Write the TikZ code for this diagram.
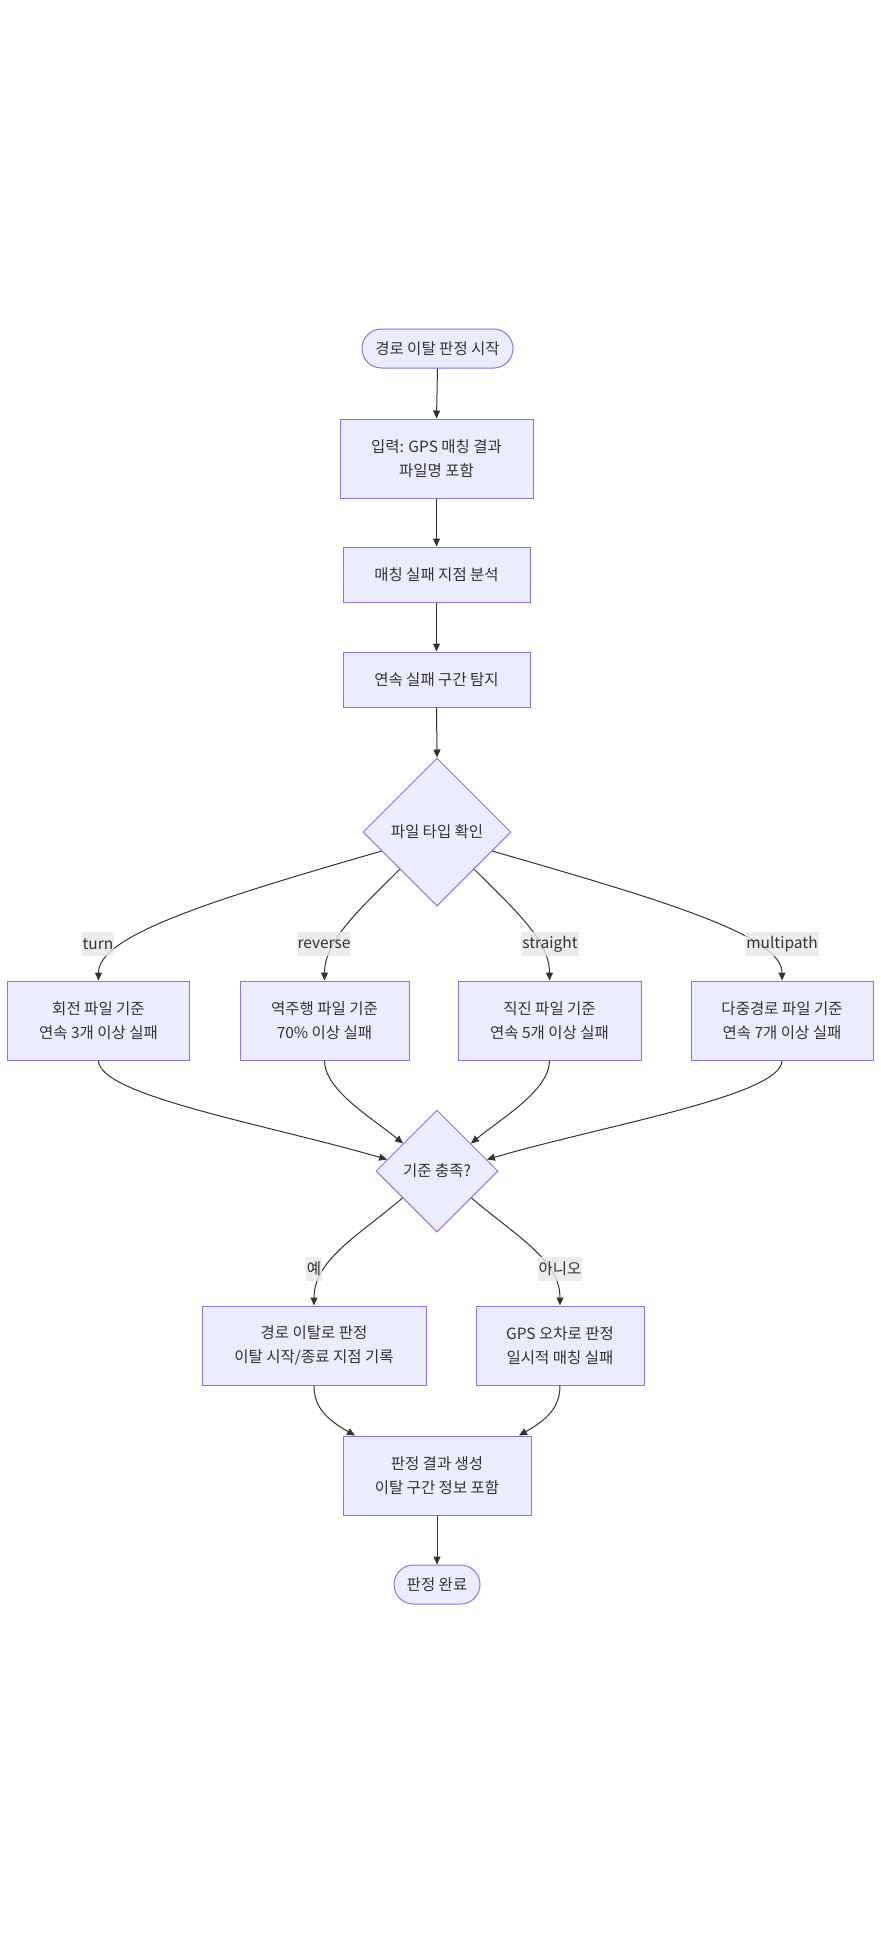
\documentclass[tikz,border=0pt]{standalone}
\usepackage{fontspec}
\setmainfont{Noto Sans CJK KR}
\usetikzlibrary{shapes.geometric,arrows.meta}
\definecolor{nodefill}{HTML}{ECECFF}
\definecolor{nodeline}{HTML}{9370DB}
\definecolor{edgeline}{HTML}{333333}
\definecolor{txtcol}{HTML}{333333}
\definecolor{lblbg}{HTML}{E8E8E8}
\newcommand\diagfont{\fontsize{15.5bp}{24bp}\selectfont}
\begin{document}
\begin{tikzpicture}[x=1bp,y=-1bp,
  box/.style={rectangle, draw=nodeline, fill=nodefill, line width=1bp, text=txtcol, font=\diagfont, align=center, inner sep=0pt},
  pill/.style={box, rounded corners=19.5bp},
  dia/.style={diamond, aspect=1, draw=nodeline, fill=nodefill, line width=1bp, text=txtcol, font=\diagfont, inner sep=0pt},
  lbl/.style={fill=lblbg, fill opacity=0.8, text opacity=1, text=txtcol, inner xsep=1bp, inner ysep=0pt, minimum height=24bp, font=\diagfont},
  conn/.style={draw=edgeline, line width=1bp, -{Triangle[length=8bp,width=7bp]}}]
\fill[white] (0,0) rectangle (881,1934);
\useasboundingbox (0,0) rectangle (881,1934);

% nodes
\node[pill, minimum width=151bp, minimum height=39bp] (start) at (437.5,348.5) {경로 이탈 판정 시작};
\node[box, minimum width=193bp, minimum height=79bp] (inp) at (436.5,458.5) {입력: GPS 매칭 결과\\파일명 포함};
\node[box, minimum width=187bp, minimum height=55bp] (match) at (436.5,574.5) {매칭 실패 지점 분석};
\node[box, minimum width=187bp, minimum height=55bp] (detect) at (436.5,679.5) {연속 실패 구간 탐지};
\node[dia, minimum width=148bp, minimum height=148bp] (d1) at (437,832) {파일 타입 확인};

\node[box, minimum width=181bp, minimum height=79bp] (b1) at (98.5,1020.5) {회전 파일 기준\\연속 3개 이상 실패};
\node[box, minimum width=169bp, minimum height=79bp] (b2) at (324.5,1020.5) {역주행 파일 기준\\70\% 이상 실패};
\node[box, minimum width=183bp, minimum height=79bp] (b3) at (549.5,1020.5) {직진 파일 기준\\연속 5개 이상 실패};
\node[box, minimum width=182bp, minimum height=79bp] (b4) at (782,1020.5) {다중경로 파일 기준\\연속 7개 이상 실패};

\node[dia, minimum width=122bp, minimum height=122bp] (d2) at (437,1171) {기준 충족?};

\node[box, minimum width=224bp, minimum height=79bp] (yes) at (314,1345.5) {경로 이탈로 판정\\이탈 시작/종료 지점 기록};
\node[box, minimum width=168bp, minimum height=79bp] (no) at (560,1345.5) {GPS 오차로 판정\\일시적 매칭 실패};
\node[box, minimum width=188bp, minimum height=79bp] (res) at (437,1475.5) {판정 결과 생성\\이탈 구간 정보 포함};
\node[pill, minimum width=86bp, minimum height=39bp] (fin) at (437,1584.5) {판정 완료};

% connectors
\draw[conn] (start.south) -- (inp.north);
\draw[conn] (inp.south) -- (match.north);
\draw[conn] (match.south) -- (detect.north);
\draw[conn] (detect.south) -- (d1.north);

\draw[conn] (d1.199) .. controls +(-170,49) and +(0,-45) .. (b1.north);
\draw[conn] (d1.south west) .. controls +(-40,40) and +(0,-40) .. (b2.north);
\draw[conn] (d1.south east) .. controls +(40,40) and +(0,-40) .. (b3.north);
\draw[conn] (d1.-19) .. controls +(170,49) and +(0,-45) .. (b4.north);

\draw[conn] (b1.south) .. controls +(0,35) and +(-120,-35) .. (d2.167);
\draw[conn] (b2.south) .. controls +(0,30) and +(-30,-25) .. (d2.141);
\draw[conn] (b3.south) .. controls +(0,30) and +(30,-25) .. (d2.39);
\draw[conn] (b4.south) .. controls +(0,35) and +(120,-35) .. (d2.13);

\draw[conn] (d2.218) .. controls +(-43,37) and +(0,-46) .. (yes.north);
\draw[conn] (d2.322) .. controls +(43,37) and +(0,-46) .. (no.north);

\draw[conn] (yes.south) .. controls +(0,22) and +(-28,-16) .. (res.154);
\draw[conn] (no.south) .. controls +(0,22) and +(28,-16) .. (res.26);
\draw[conn] (res.south) -- (fin.north);

% edge labels
\node[lbl] (lturn) at (98,944) {turn};
\node[lbl] (lrev) at (324,944) {reverse};
\node[lbl] (lstr) at (550,944) {straight};
\node[lbl] (lmul) at (782,944) {multipath};
\node[lbl] (lyes) at (314,1269) {예};
\node[lbl] (lno) at (560,1269) {아니오};
\end{tikzpicture}
\end{document}
